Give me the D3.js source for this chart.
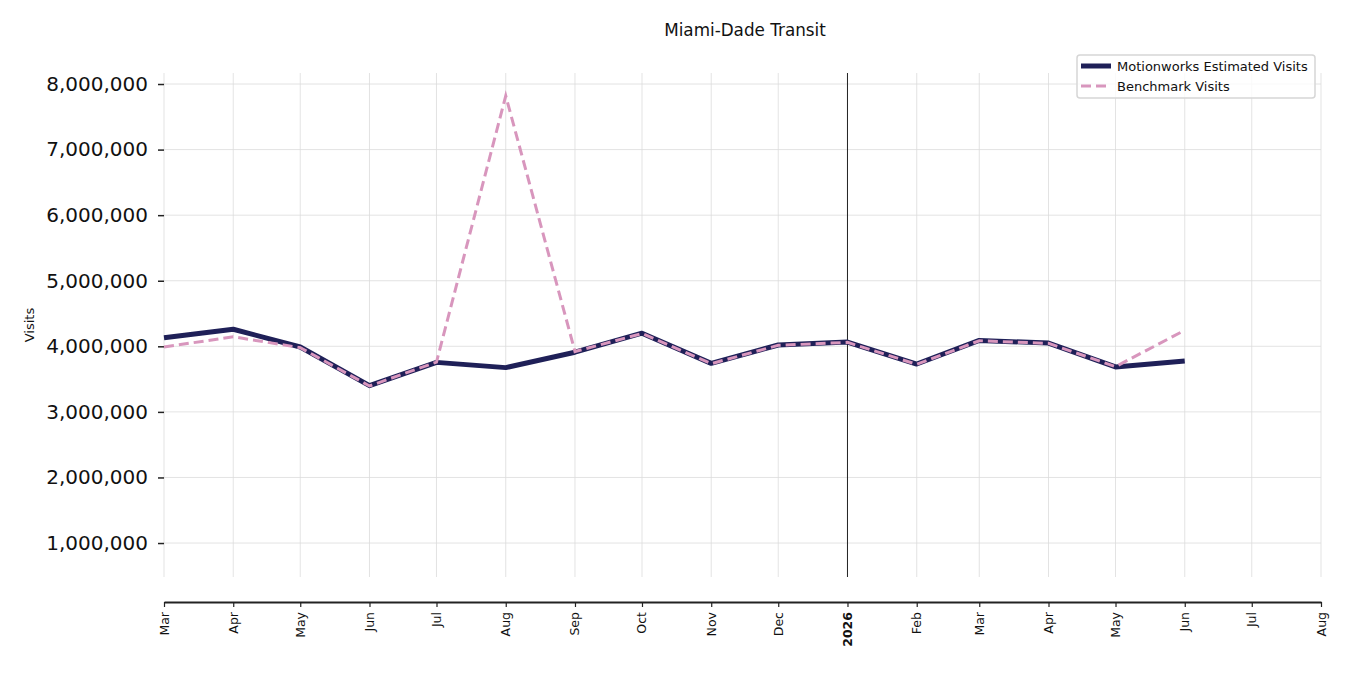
<!DOCTYPE html>
<html>
<head>
<meta charset="utf-8">
<script src="https://cdn.jsdelivr.net/npm/d3@7"></script>
<style>
  body { margin: 0; background: #fff; }
  svg { font-family: "DejaVu Sans", sans-serif; }
</style>
</head>
<body>
<svg id="chart" width="1350" height="675"></svg>
<script>
// monthly values, first of each month
const months = ['2025-03', '2025-04', '2025-05', '2025-06', '2025-07', '2025-08', '2025-09', '2025-10',
  '2025-11', '2025-12', '2026-01', '2026-02', '2026-03', '2026-04', '2026-05', '2026-06']
const motionworks = [4130000, 4260000, 3990000, 3400000, 3755000, 3675000, 3910000, 4200000,
  3740000, 4020000, 4065000, 3730000, 4090000, 4050000, 3685000, 3775000]
const benchmark = [3990000, 4145000, 3980000, 3395000, 3760000, 7820000, 3920000, 4195000,
  3735000, 4015000, 4060000, 3725000, 4085000, 4045000, 3690000, 4245000]
const yTicks = [1000000, 2000000, 3000000, 4000000, 5000000, 6000000, 7000000, 8000000]
const seriesNames = ['Motionworks Estimated Visits', 'Benchmark Visits']

const parse = d3.timeParse('%Y-%m')
const dates = months.map(parse)

const svg = d3.select('#chart')
const plotLeft = 164
const plotRight = 1321
const plotTop = 73
const plotBottom = 577

const x = d3.scaleTime()
  .domain([new Date(2025, 2, 1), new Date(2026, 7, 1)])
  .range([plotLeft, plotRight])
const y = d3.scaleLinear()
  .domain([482000, 8168000])
  .range([plotBottom, plotTop])

const xTicks = d3.timeMonth.range(new Date(2025, 2, 1), new Date(2026, 7, 2))

// grid
const grid = svg.append('g').attr('stroke', '#dcdcdc').attr('stroke-width', 0.8)
grid.selectAll('line.v')
  .data(xTicks)
  .join('line')
  .attr('class', 'v')
  .attr('x1', d => x(d)).attr('x2', d => x(d))
  .attr('y1', plotTop).attr('y2', plotBottom)
grid.selectAll('line.h')
  .data(yTicks)
  .join('line')
  .attr('class', 'h')
  .attr('x1', plotLeft).attr('x2', plotRight)
  .attr('y1', d => y(d)).attr('y2', d => y(d))

// y axis, no spine
const yAxis = svg.append('g')
  .attr('transform', 'translate(' + plotLeft + ',0)')
  .call(d3.axisLeft(y).tickValues(yTicks).tickFormat(d3.format(',')).tickSize(6).tickPadding(10))
yAxis.select('.domain').remove()
yAxis.selectAll('.tick line').attr('stroke', '#222').attr('stroke-width', 1.5)
yAxis.selectAll('.tick text')
  .attr('font-size', 20)
  .attr('font-family', '"DejaVu Sans", sans-serif')
  .attr('fill', '#111')

// x axis, offset below the plot
const fmtMonth = d3.timeFormat('%b')
const xAxis = svg.append('g')
  .attr('transform', 'translate(0,602)')
  .call(d3.axisBottom(x).tickValues(xTicks)
    .tickFormat(d => d.getMonth() === 0 ? d.getFullYear() : fmtMonth(d))
    .tickSize(5).tickSizeOuter(0))
xAxis.select('.domain').attr('stroke', '#222').attr('stroke-width', 2)
xAxis.selectAll('.tick line').attr('stroke', '#222').attr('stroke-width', 1.2)
xAxis.selectAll('.tick text')
  .attr('font-size', 12.5)
  .attr('font-family', '"DejaVu Sans", sans-serif')
  .attr('fill', '#111')
  .attr('font-weight', d => d.getMonth() === 0 ? 'bold' : 'normal')
  .attr('transform', 'rotate(-90)')
  .attr('text-anchor', 'end')
  .attr('dy', '0.32em')
  .attr('x', -10)
  .attr('y', 0)

// year marker
svg.append('line')
  .attr('x1', x(new Date(2026, 0, 1))).attr('x2', x(new Date(2026, 0, 1)))
  .attr('y1', plotTop).attr('y2', plotBottom)
  .attr('stroke', '#222').attr('stroke-width', 1)

const line = d3.line()
  .x((d, i) => x(dates[i]))
  .y(d => y(d))

svg.append('path')
  .datum(motionworks)
  .attr('d', line)
  .attr('fill', 'none')
  .attr('stroke', '#1f2058')
  .attr('stroke-width', 5)
  .attr('stroke-linejoin', 'round')

svg.append('path')
  .datum(benchmark)
  .attr('d', line)
  .attr('fill', 'none')
  .attr('stroke', '#d896bd')
  .attr('stroke-width', 3)
  .attr('stroke-dasharray', '10,5')

// labels
svg.append('text')
  .attr('x', 745).attr('y', 36)
  .attr('text-anchor', 'middle')
  .attr('font-size', 16.8)
  .attr('fill', '#111')
  .text('Miami-Dade Transit')

svg.append('text')
  .attr('transform', 'translate(34,' + (plotTop + plotBottom) / 2 + ') rotate(-90)')
  .attr('text-anchor', 'middle')
  .attr('font-size', 13)
  .attr('fill', '#111')
  .text('Visits')

// legend
const lg = svg.append('g').attr('transform', 'translate(1077,55)')
lg.append('rect')
  .attr('width', 238).attr('height', 43)
  .attr('rx', 3)
  .attr('fill', '#fff').attr('fill-opacity', 0.8)
  .attr('stroke', '#d6d6d6').attr('stroke-width', 1.5)
const styles = [
  { stroke: '#1f2058', width: 5, dash: null },
  { stroke: '#d896bd', width: 3, dash: '10,5' }
]
seriesNames.forEach((name, i) => {
  const yy = 11 + i * 20
  lg.append('line')
    .attr('x1', 4).attr('x2', 34)
    .attr('y1', yy).attr('y2', yy)
    .attr('stroke', styles[i].stroke)
    .attr('stroke-width', styles[i].width)
    .attr('stroke-dasharray', styles[i].dash)
  lg.append('text')
    .attr('x', 40).attr('y', yy + 4.5)
    .attr('font-size', 13)
    .attr('fill', '#111')
    .text(name)
})
</script>
</body>
</html>
